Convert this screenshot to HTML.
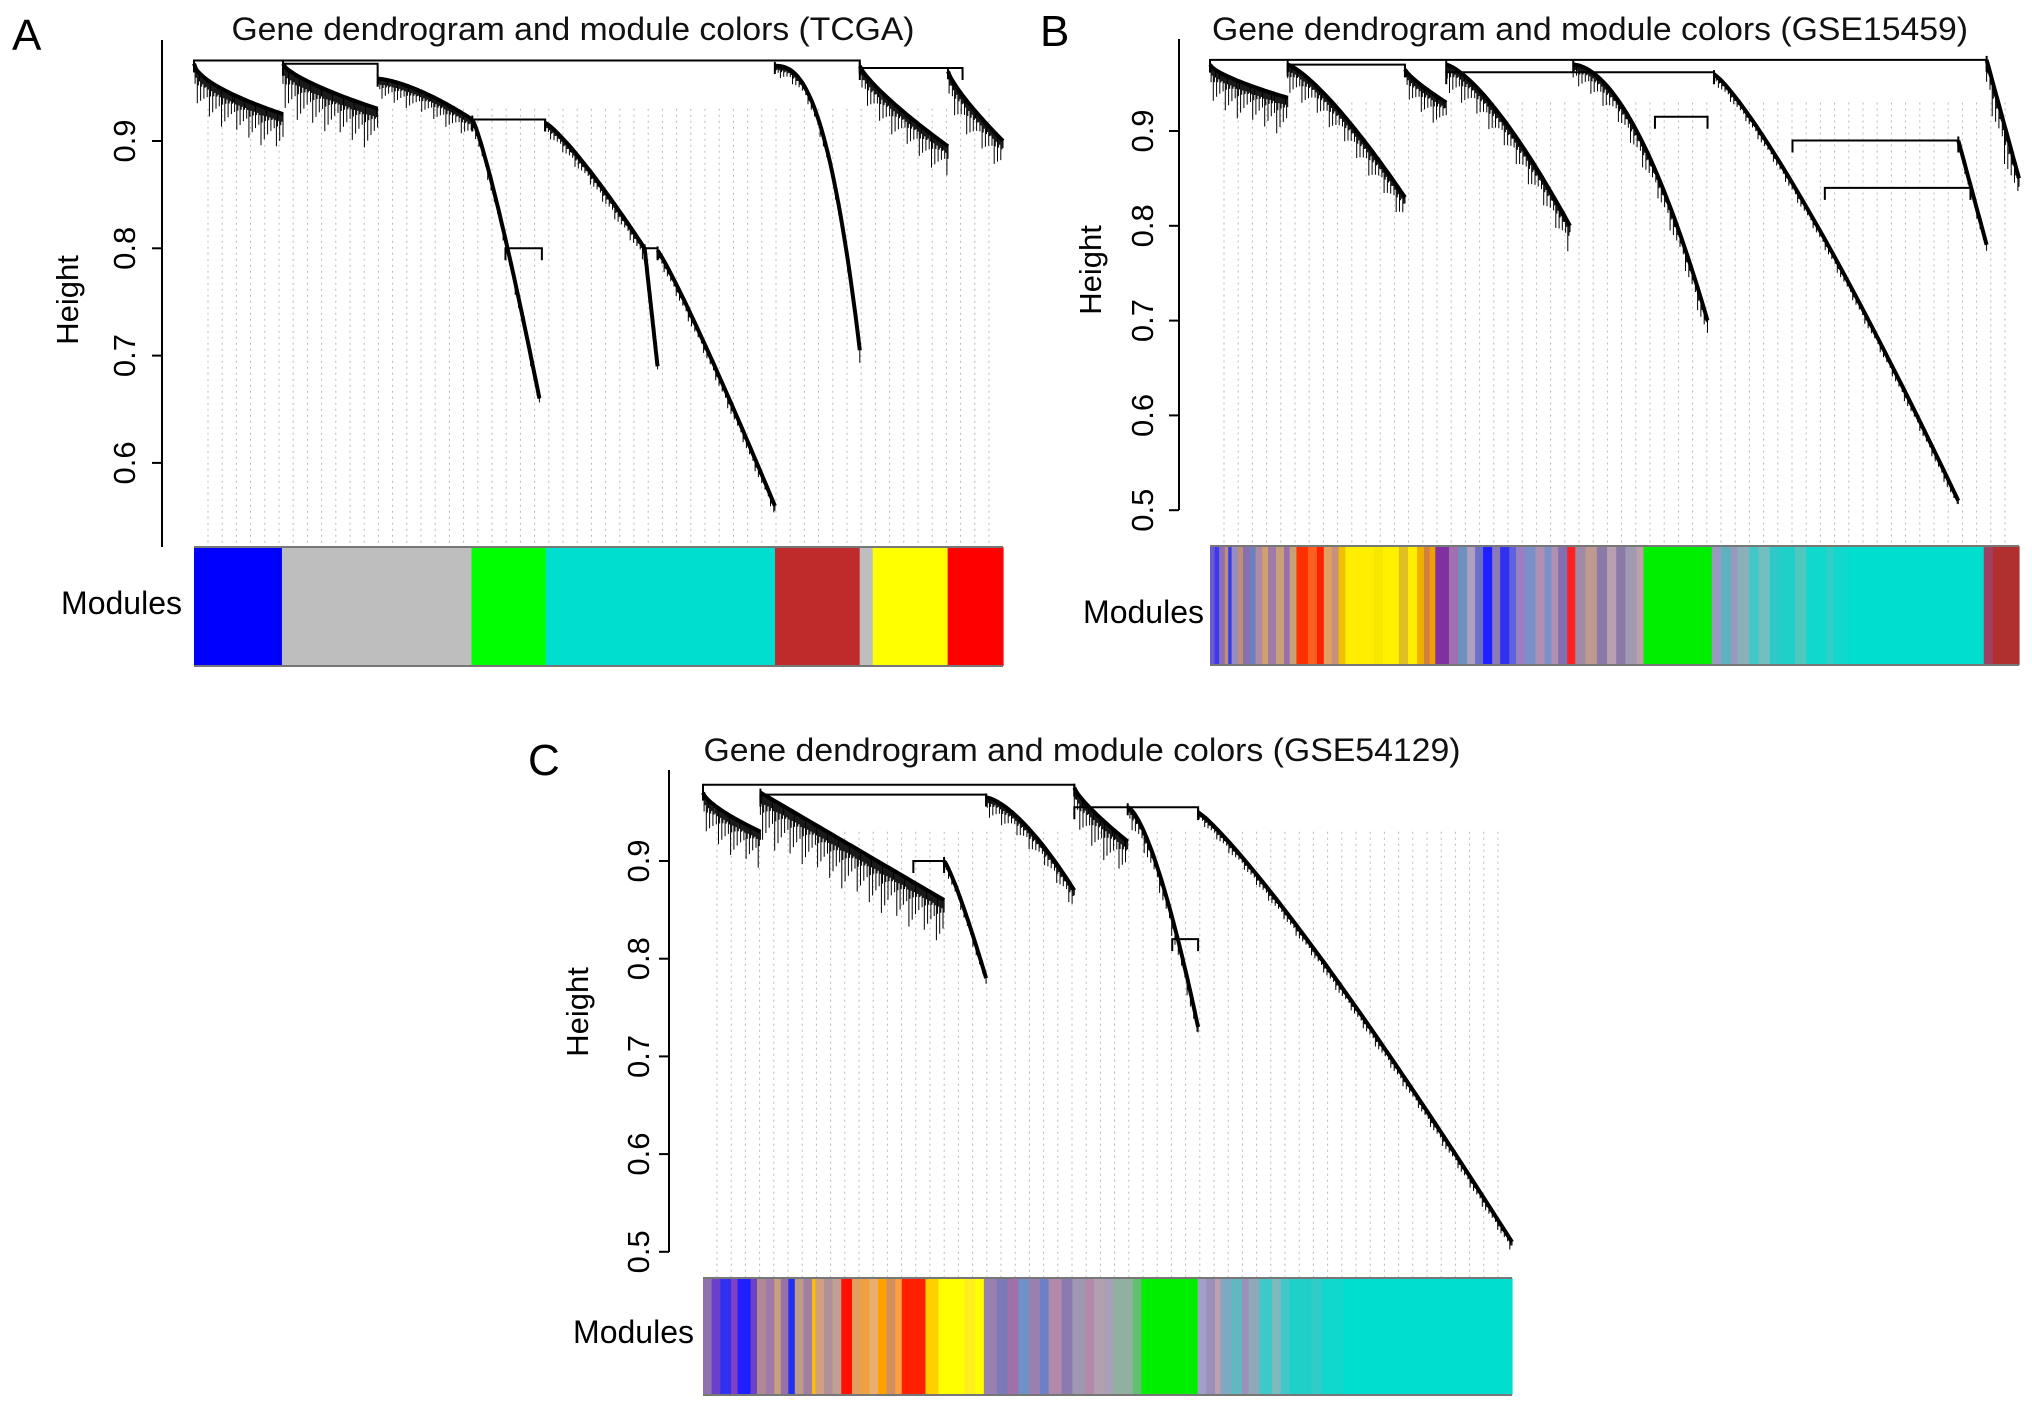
<!DOCTYPE html>
<html><head><meta charset="utf-8">
<style>
html,body{margin:0;padding:0;background:#fff;}
svg{display:block;font-family:"Liberation Sans",Arial,sans-serif;}
</style></head>
<body>
<svg id="fig" width="2032" height="1407" viewBox="0 0 2032 1407" xmlns="http://www.w3.org/2000/svg">
<rect width="2032" height="1407" fill="#fff"/>
</svg>
<script>
// ---------- DATA ----------
const panelIds = ['A','B','C'];
const panelTitles = ['Gene dendrogram and module colors (TCGA)','Gene dendrogram and module colors (GSE15459)','Gene dendrogram and module colors (GSE54129)'];
const tickLabelsA = [0.6,0.7,0.8,0.9];
const tickLabelsB = [0.5,0.6,0.7,0.8,0.9];
const tickLabelsC = [0.5,0.6,0.7,0.8,0.9];
// clusters: [xStartFrac, xEndFrac, topHeight, bottomHeight, curveExp, fringe]
const clustersA = [[0,0.11,0.972,0.925,0.6,0.035],[0.11,0.227,0.972,0.93,0.7,0.04],[0.227,0.344,0.958,0.92,1.5,0.02],[0.344,0.427,0.92,0.66,1.2,0.01],[0.434,0.557,0.917,0.80,1.2,0.012],[0.557,0.573,0.80,0.69,1.0,0.005],[0.573,0.718,0.798,0.56,1.1,0.01],[0.718,0.823,0.97,0.705,2.5,0.01],[0.823,0.932,0.97,0.895,0.8,0.03],[0.932,1.0,0.965,0.90,0.8,0.03]];
const clustersB = [[0,0.096,0.97,0.935,0.7,0.04],[0.096,0.241,0.97,0.83,1.3,0.03],[0.241,0.292,0.965,0.93,0.8,0.03],[0.292,0.445,0.97,0.80,1.4,0.03],[0.449,0.615,0.97,0.70,1.8,0.025],[0.623,0.925,0.96,0.51,1.2,0.01],[0.925,0.96,0.89,0.78,1.0,0.01],[0.96,1.0,0.975,0.85,1.0,0.04]];
const clustersC = [[0,0.071,0.97,0.93,0.7,0.04],[0.071,0.298,0.97,0.86,1.0,0.05],[0.298,0.35,0.90,0.78,1.2,0.01],[0.35,0.459,0.965,0.87,1.5,0.02],[0.459,0.525,0.975,0.92,0.8,0.04],[0.525,0.612,0.955,0.73,1.5,0.02],[0.612,1.0,0.95,0.51,1.15,0.01]];
// merges: [xaFrac, xbFrac, height]
const mergesA = [[0,0.823,0.975],[0.823,0.95,0.968],[0.11,0.227,0.972],[0.344,0.434,0.92],[0.557,0.573,0.80],[0.385,0.43,0.80]];
const mergesB = [[0,0.96,0.975],[0.292,0.623,0.962],[0.096,0.241,0.97],[0.72,0.925,0.89],[0.76,0.94,0.84],[0.55,0.615,0.915]];
const mergesC = [[0,0.459,0.978],[0.459,0.612,0.955],[0.071,0.35,0.968],[0.26,0.298,0.90],[0.58,0.612,0.82]];
// module colour strips: [colour, relative width]
const modulesA = [['#0000ff',135],['#bebebe',291],['#00ff00',114],['#00ded0',352],['#bf2a2a',130],['#bebebe',20],['#ffff00',115],['#ff0000',85]];
const modulesB = [['#6a5acd',4],['#3a3aee',4],['#8e6fb3',5],['#c09070',3],['#3a3aee',3],['#9a8cbc',6],['#c09070',4],['#8a6fae',6],['#6a80c0',5],['#b08aa0',6],['#d0a070',5],['#a07aa8',7],['#c8a078',7],['#9a6fb0',5],['#c8a078',6],['#ff3000',10],['#ff6020',8],['#ff2000',6],['#e0a060',7],['#c89080',6],['#f0c000',6],['#ffee00',25],['#f8e800',8],['#fff000',14],['#e0c020',8],['#ffee00',8],['#f0b000',6],['#d08040',5],['#f0a000',5],['#8030a0',12],['#a070b0',8],['#7090c0',8],['#b0a0c0',7],['#6a70c8',7],['#2020ff',8],['#8a7ab8',7],['#3030f0',8],['#6060e0',6],['#9a80c0',8],['#7a90c8',9],['#b090b0',8],['#7a90c8',6],['#b090b0',6],['#8070b0',8],['#ff2020',7],['#a08aa8',9],['#c09a90',10],['#8a7aa8',9],['#b8a0b0',8],['#8a7aa8',8],['#a09ab0',10],['#c0a0a8',6],['#00ee00',60],['#9a9ac0',8],['#60b0c0',9],['#9a9ac0',6],['#8ab0b8',10],['#40c8c8',8],['#70c0c0',10],['#30c8c8',8],['#20d0c8',14],['#50c8c0',10],['#10d8cc',18],['#30d0c8',6],['#10d8cc',12],['#00ded0',120],['#a04060',8],['#b03030',23]];
const modulesC = [['#9070b0',8],['#6a40c8',8],['#3030f0',10],['#8040c0',6],['#2020ff',12],['#6a40c8',6],['#b08a90',8],['#a07aa8',8],['#c8a080',6],['#9a70a8',7],['#2030f0',6],['#c09a88',8],['#a080a0',8],['#ffc000',3],['#d0a080',8],['#b0909a',8],['#c0a090',8],['#ff1000',10],['#e0a060',8],['#f0a040',8],['#e8b070',8],['#ffa000',8],['#d09060',8],['#ffa040',6],['#ff2000',22],['#ffd000',12],['#ffff00',24],['#ffee20',10],['#ffff00',8],['#9a80b0',12],['#7a7ab8',10],['#a070a8',10],['#7090c8',10],['#9a80b0',10],['#6a80c8',8],['#b08aa8',12],['#8a7ab0',10],['#a098b0',12],['#b08aa8',8],['#b0a0b0',10],['#a8a0b8',8],['#90b0a0',18],['#60c070',8],['#00ee00',52],['#a0a0c8',8],['#9a90b8',8],['#c0a0b0',5],['#80a8c0',10],['#60b8c0',10],['#9a90b8',6],['#90a8b8',10],['#40c8c8',12],['#80b8c0',8],['#40c8c8',8],['#20d0c8',20],['#30ccc8',10],['#10d8cc',20],['#00ded0',156]];

// ---------- helpers ----------
const NS='http://www.w3.org/2000/svg';
const svg=document.getElementById('fig');
function mk(tag,attrs,parent){const e=document.createElementNS(NS,tag);for(const k in attrs)e.setAttribute(k,attrs[k]);(parent||svg).appendChild(e);return e;}

const panels=[
 {id:'A',title:panelTitles[0],ticks:tickLabelsA,clusters:clustersA,merges:mergesA,mods:modulesA,tlen:683,
  px0:194,px1:1003,axisX:162,axisTop:40,axisBot:547,h0:0.9,y0:141,ppu:1073,barTop:547,barBot:666,
  titleX:573,titleY:40,tickX:124,heightX:68,modX:182,modY:603,letX:12,letY:50,heightY:300},
 {id:'B',title:panelTitles[1],ticks:tickLabelsB,clusters:clustersB,merges:mergesB,mods:modulesB,tlen:756,
  px0:1210,px1:2019,axisX:1179,axisTop:39,axisBot:510,h0:0.9,y0:131,ppu:948,barTop:546,barBot:665,
  titleX:1590,titleY:40,tickX:1142,heightX:1091,modX:1204,modY:612,letX:1040,letY:46,heightY:270},
 {id:'C',title:panelTitles[2],ticks:tickLabelsC,clusters:clustersC,merges:mergesC,mods:modulesC,tlen:757,
  px0:703,px1:1512,axisX:669,axisTop:770,axisBot:1252,h0:0.9,y0:861,ppu:977,barTop:1278,barBot:1395,
  titleX:1082,titleY:761,tickX:638,heightX:578,modX:694,modY:1332,letX:528,letY:775,heightY:1012}
];

panels.forEach(p=>{
 const g=mk('g',{});
 
 
 const X=f=>p.px0+f*(p.px1-p.px0);
 const Y=h=>p.y0+(p.h0-h)*p.ppu;
 const L=mk('text',{x:p.letX,y:p.letY,'font-size':44,fill:'#000'},g);L.textContent=p.id;
 
 
 const T=mk('text',{x:p.titleX,y:p.titleY,'font-size':32,'text-anchor':'middle',fill:'#111',textLength:p.tlen,lengthAdjust:'spacingAndGlyphs'},g);T.textContent=p.title;
 
 
 const gd=mk('g',{stroke:'#b8b8b8','stroke-width':1,'stroke-dasharray':'2,4'},g);
 
 
 for(let x=p.px0+14;x<p.px1;x+=14.2){mk('line',{x1:x,x2:x,y1:Y(0.93),y2:p.barTop},gd);}
 const ax=mk('g',{},g);
 
 
 mk('line',{x1:p.axisX,x2:p.axisX,y1:p.axisTop,y2:p.axisBot,stroke:'#000','stroke-width':2},ax);
 p.ticks.forEach(t=>{const y=Y(t);
  mk('line',{x1:p.axisX-10,x2:p.axisX,y1:y,y2:y,stroke:'#000','stroke-width':2},ax);
  const tx=mk('text',{x:0,y:0,'font-size':31,'text-anchor':'middle',transform:`translate(${p.tickX+11},${y}) rotate(-90)`},ax);
  tx.textContent=t.toFixed(1);
  
  
 });
 const ht=mk('text',{x:0,y:0,'font-size':31,'text-anchor':'middle',transform:`translate(${p.heightX+10},${p.heightY}) rotate(-90)`},g);
 ht.textContent='Height';
 
 
 const dg=mk('g',{stroke:'#000',fill:'none'},g);
 
 
 p.merges.forEach(m=>{
  const a=X(m[0]),b=X(m[1]),y=Y(m[2]);
  mk('path',{d:`M${a},${y+12}V${y}H${b}V${y+12}`,'stroke-width':2},dg);
 });
 p.clusters.forEach((c,ci)=>{
  const [f0,f1,hT,hB,ex,fr]=c;
  const xa=X(f0),xb=X(f1);
  let d='';const n=Math.max(4,Math.round((xb-xa)/1.1));
  for(let i=0;i<=n;i++){
   const t=i/n;const x=xa+t*(xb-xa);const h=hT+(hB-hT)*Math.pow(t,ex);
   const v=(((i*7919+ci*104729)%97)/97);
   const len=(fr*(0.15+0.85*v*v*v)+0.004)*p.ppu;
   d+=`M${x.toFixed(1)},${(Y(h)-2).toFixed(1)}v${len.toFixed(1)}`;
  }
  mk('path',{d:d,'stroke-width':1},dg);
  let cd='';
  for(let i=0;i<=40;i++){const t=i/40;const x=xa+t*(xb-xa);const h=hT+(hB-hT)*Math.pow(t,ex);cd+=(i?'L':'M')+x.toFixed(1)+','+Y(h).toFixed(1);}
  mk('path',{d:cd,'stroke-width':4},dg);
  mk('line',{x1:xa,x2:xa,y1:Y(hT)-4,y2:Y(hT)+8,'stroke-width':2},dg);
 });
 const mb=mk('g',{},g);
 
 
 const tot=p.mods.reduce((s,m)=>s+m[1],0);let acc=0;
 p.mods.forEach(m=>{const x=X(acc/tot),w=X((acc+m[1])/tot)-x;acc+=m[1];
  const r=mk('rect',{x:x,y:p.barTop,width:w+0.6,height:p.barBot-p.barTop,fill:m[0]},mb);
  
  
 });
 mk('line',{x1:p.px0,x2:p.px1,y1:p.barTop,y2:p.barTop,stroke:'#777','stroke-width':2},mb);
 mk('line',{x1:p.px0,x2:p.px1,y1:p.barBot,y2:p.barBot,stroke:'#777','stroke-width':2},mb);
 const ml=mk('text',{x:p.modX,y:p.modY+11,'font-size':32,'text-anchor':'end'},g);
 ml.textContent='Modules';
 
 
});
</script>
</body></html>
